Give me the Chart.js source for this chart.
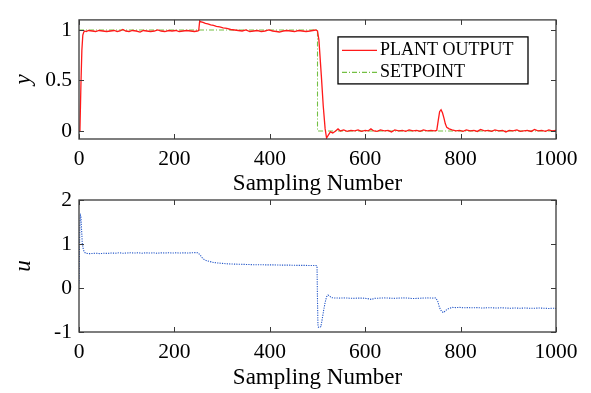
<!DOCTYPE html>
<html>
<head>
<meta charset="utf-8">
<script src="https://cdn.jsdelivr.net/npm/chart.js@4/dist/chart.umd.min.js"></script>
<style>
  html, body { margin: 0; padding: 0; background: #ffffff; }
  #wrap { position: relative; width: 591px; height: 393px; }
  #wrap canvas { position: absolute; left: 0; top: 0; }
</style>
</head>
<body>
<div id="wrap">
  <canvas id="top" width="591" height="393"></canvas>
  <canvas id="bot" width="591" height="393"></canvas>
</div>
<script>
// ---------- DATA ----------
const xTicks = [0, 200, 400, 600, 800, 1000];
const yTicksTop = [0, 0.5, 1];
const yTicksBottom = [-1, 0, 1, 2];

const plantSamples = [0,2,4,6,8,10,12,15,20,28,35,42,50,58,66,74,80,86,92,98,105,112,120,128,135,142,150,158,165,172,180,188,195,203,210,218,226,234,242,248,251,253,256,260,265,270,276,282,288,295,302,310,318,326,334,342,350,358,366,374,382,390,398,406,414,420,428,436,444,452,460,468,476,484,490,496,500,503,508,512,516,519,523,527,532,538,543,548,555,562,570,578,585,592,600,606,612,618,625,632,640,648,655,662,670,678,685,692,700,708,715,722,730,738,745,750,753,756,759,762,765,768,771,776,782,790,798,805,812,820,828,835,842,850,858,865,872,880,888,895,902,910,918,925,932,940,948,955,962,970,978,985,992,1000];
const plantOutput = [0,0.02,0.45,0.80,0.95,0.98,0.99,0.985,0.995,0.99,0.985,0.995,0.99,0.985,0.99,0.995,0.985,0.99,1.005,0.99,0.985,0.995,0.99,0.98,0.995,0.99,0.985,0.99,1.0,0.99,0.985,0.995,0.99,0.995,0.985,0.99,0.995,0.99,0.985,0.99,0.995,1.09,1.08,1.075,1.065,1.06,1.05,1.045,1.035,1.03,1.02,1.015,1.005,1.0,0.995,0.99,1.0,0.985,0.99,0.995,0.985,0.99,1.0,0.99,0.985,0.98,0.99,0.995,0.99,0.985,0.995,0.99,0.985,0.99,0.995,1.0,0.99,0.9,0.55,0.25,0.02,-0.07,-0.04,-0.01,-0.02,0.0,0.02,0.0,0.01,-0.005,0.005,0.0,0.01,-0.005,0.005,0.0,0.02,0.0,-0.005,0.01,0.0,0.005,-0.01,0.01,0.0,0.005,-0.005,0.01,0.0,0.005,-0.005,0.01,0.0,0.005,0.0,0.005,0.1,0.19,0.21,0.18,0.13,0.07,0.035,0.02,0.01,0.0,0.005,-0.005,0.01,0.0,0.005,-0.005,0.015,0.0,0.005,-0.005,0.01,0.0,0.005,-0.01,0.005,0.0,0.01,-0.005,0.0,0.005,-0.005,0.015,0.0,0.005,-0.005,0.01,0.0,0.005];

const setpointSamples = [0, 500, 500, 1000];
const setpointValues = [1, 1, 0, 0];

const controlSamples = [0,1,2,3,4,5,6,7,8,9,11,14,20,28,36,44,52,60,68,76,84,92,100,108,116,124,132,140,148,156,164,172,180,188,196,204,212,220,228,236,244,249,254,258,262,268,275,282,290,300,310,320,335,350,365,380,395,410,425,440,455,470,485,497,499,500,501,503,507,510,513,516,519,522,525,529,535,545,555,565,575,585,595,605,613,620,630,640,650,660,670,680,690,700,710,720,730,740,748,752,756,760,764,768,772,777,783,790,798,806,815,825,835,845,855,865,875,885,895,905,915,925,935,945,955,965,975,985,995,1000];
const controlSignal = [0.1,0.9,1.5,1.65,1.62,1.4,1.2,1.0,0.95,0.88,0.82,0.79,0.78,0.785,0.79,0.78,0.79,0.785,0.795,0.79,0.8,0.79,0.795,0.8,0.795,0.8,0.79,0.8,0.795,0.8,0.79,0.8,0.795,0.8,0.795,0.8,0.795,0.8,0.795,0.8,0.805,0.8,0.75,0.69,0.65,0.62,0.6,0.58,0.57,0.56,0.55,0.545,0.54,0.535,0.53,0.53,0.525,0.525,0.52,0.52,0.515,0.515,0.51,0.51,0.5,-0.3,-0.88,-0.9,-0.88,-0.7,-0.5,-0.33,-0.2,-0.16,-0.18,-0.22,-0.225,-0.23,-0.225,-0.23,-0.235,-0.23,-0.23,-0.24,-0.26,-0.235,-0.23,-0.225,-0.23,-0.235,-0.23,-0.225,-0.23,-0.24,-0.235,-0.23,-0.225,-0.23,-0.225,-0.3,-0.45,-0.53,-0.56,-0.52,-0.48,-0.46,-0.44,-0.445,-0.44,-0.45,-0.445,-0.45,-0.445,-0.455,-0.45,-0.45,-0.455,-0.45,-0.455,-0.46,-0.455,-0.46,-0.455,-0.46,-0.46,-0.455,-0.46,-0.465,-0.46,-0.465];

// ---------- HELPERS ----------
const pts = (xs, ys) => xs.map((x, i) => ({ x: x, y: ys[i] }));
const FONT = 'Liberation Serif, Times New Roman, serif';

const framePlugin = {
  id: 'frame',
  afterDatasetsDraw(chart) {
    const { ctx, chartArea: a, scales } = chart;
    ctx.save();
    ctx.strokeStyle = '#3a3a3a';
    ctx.lineWidth = 1.3;
    ctx.strokeRect(a.left, a.top, a.right - a.left, a.bottom - a.top);
    const L = 5;
    ctx.beginPath();
    scales.x.ticks.forEach(t => {
      const p = Math.round(scales.x.getPixelForValue(t.value)) + 0.5;
      ctx.moveTo(p, a.bottom); ctx.lineTo(p, a.bottom - L);
      ctx.moveTo(p, a.top); ctx.lineTo(p, a.top + L);
    });
    scales.y.ticks.forEach(t => {
      const p = Math.round(scales.y.getPixelForValue(t.value)) + 0.5;
      ctx.moveTo(a.left, p); ctx.lineTo(a.left + L, p);
      ctx.moveTo(a.right, p); ctx.lineTo(a.right - L, p);
    });
    ctx.lineWidth = 1;
    ctx.stroke();
    ctx.restore();
  }
};

const boxLegendPlugin = {
  id: 'boxLegend',
  afterDraw(chart, args, opts) {
    if (!opts || !opts.show) return;
    const { ctx, chartArea: a } = chart;
    const x0 = a.right - 218, y0 = a.top + 17, w = 190, h = 47;
    ctx.save();
    ctx.fillStyle = '#ffffff';
    ctx.fillRect(x0, y0, w, h);
    ctx.strokeStyle = '#000000';
    ctx.lineWidth = 1.3;
    ctx.strokeRect(x0, y0, w, h);
    ctx.font = '18px ' + FONT;
    ctx.textBaseline = 'middle';
    ctx.fillStyle = '#000000';
    chart.data.datasets.forEach((ds, i) => {
      const cy = y0 + 13.5 + i * 22;
      ctx.beginPath();
      ctx.strokeStyle = ds.borderColor;
      ctx.lineWidth = ds.borderWidth;
      ctx.setLineDash(ds.borderDash || []);
      ctx.moveTo(x0 + 4, cy);
      ctx.lineTo(x0 + 39, cy);
      ctx.stroke();
      ctx.setLineDash([]);
      ctx.fillText(ds.label, x0 + 42, cy);
    });
    ctx.restore();
  }
};

function makeOptions(yMin, yMax, yTicks, yTitle, pad, xHeight, titlePadBottom, legend) {
  return {
    responsive: false,
    animation: false,
    events: [],
    layout: { padding: pad },
    plugins: {
      legend: { display: false },
      tooltip: { enabled: false },
      boxLegend: { show: legend }
    },
    elements: { point: { radius: 0 }, line: { tension: 0 } },
    scales: {
      x: {
        type: 'linear',
        min: 0, max: 1000,
        afterBuildTicks: s => { s.ticks = xTicks.map(v => ({ value: v })); },
        afterFit: s => { s.height = xHeight; },
        grid: { display: false, drawTicks: false },
        border: { display: false },
        ticks: { color: '#000', padding: 7, maxRotation: 0, callback: v => String(v),
                 font: { family: FONT, size: 21.5 } },
        title: { display: true, text: 'Sampling Number', color: '#000',
                 font: { family: FONT, size: 23, lineHeight: 1.0 },
                 padding: { top: 0, bottom: titlePadBottom } }
      },
      y: {
        type: 'linear',
        min: yMin, max: yMax,
        afterBuildTicks: s => { s.ticks = yTicks.map(v => ({ value: v })); },
        afterFit: s => { s.width = 79; },
        grid: { display: false, drawTicks: false },
        border: { display: false },
        ticks: { color: '#000', padding: 7, callback: v => String(v),
                 font: { family: FONT, size: 21.5 } },
        title: { display: true, text: yTitle, color: '#000',
                 font: { family: FONT, size: 23, style: 'italic', lineHeight: 1.0 },
                 padding: { top: 12, bottom: 0 } }
      }
    }
  };
}

new Chart(document.getElementById('top'), {
  type: 'line',
  data: {
    datasets: [
      { label: 'PLANT OUTPUT', data: pts(plantSamples, plantOutput),
        borderColor: '#ff1a1a', borderWidth: 1.3, fill: false, order: 1 },
      { label: 'SETPOINT', data: pts(setpointSamples, setpointValues),
        borderColor: '#74c043', borderWidth: 1.1, borderDash: [5, 2, 1, 2], fill: false, order: 2 }
    ]
  },
  options: makeOptions(-0.08, 1.1, yTicksTop, 'y', { top: 7, right: 35, bottom: 198, left: 0 }, 56, 0, true),
  plugins: [framePlugin, boxLegendPlugin]
});

new Chart(document.getElementById('bot'), {
  type: 'line',
  data: {
    datasets: [
      { label: 'u', data: pts(controlSamples, controlSignal),
        borderColor: '#2457c8', borderWidth: 1.1, borderDash: [1.2, 1.2], fill: false }
    ]
  },
  options: makeOptions(-1, 2, yTicksBottom, 'u', { top: 200, right: 35, bottom: 0, left: 0 }, 61, 4, false),
  plugins: [framePlugin, boxLegendPlugin]
});
</script>
</body>
</html>
